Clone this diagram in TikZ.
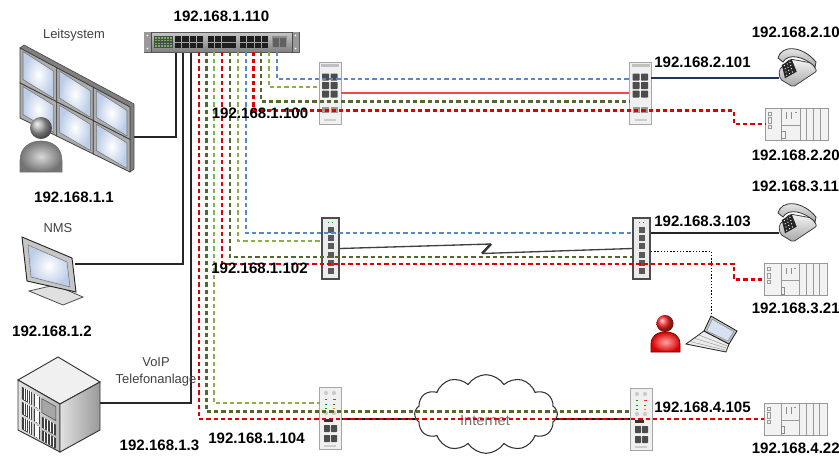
\documentclass[tikz,border=0pt]{standalone}
\usepackage{fontspec}
\setmainfont{Liberation Sans}
\usetikzlibrary{shapes.symbols,calc}

\definecolor{netred}{RGB}{222,0,0}
\definecolor{netlime}{RGB}{140,176,72}
\definecolor{netolive}{RGB}{84,104,44}
\definecolor{netblue}{RGB}{88,136,200}
\definecolor{fibre}{RGB}{242,72,72}
\definecolor{phoneline}{RGB}{30,52,90}
\definecolor{screenblue}{RGB}{188,205,232}
\definecolor{ledgreen}{RGB}{120,175,95}

\newcommand\ipfont{\bfseries\fontsize{11.3}{13}\selectfont}
\newcommand\capfont{\fontsize{9.7}{12.7}\selectfont}
% a slanted vent grille on the PBX cabinet (face coordinates)
\newcommand\ventblock[4]{%
  \fill[black!75] (#1,#3) -- (#2,#3) -- (#2,#4) -- (#1,#4) -- cycle;
  \foreach \q in {1,...,4}{\draw[white,line width=0.4pt] ({#1+(#2-#1)*\q/5},#3) -- ({#1+(#2-#1)*\q/5},#4);}}

\tikzset{
  ip/.style={font=\ipfont, inner sep=0pt},
  devcaption/.style={font=\capfont, text=black!75, inner sep=0pt, align=center},
  link/.style={line width=1.7pt, dash pattern=on 3.2pt off 2.2pt},
  lred/.style={link, draw=netred},
  llime/.style={link, draw=netlime},
  lolive/.style={link, draw=netolive},
  lblue/.style={link, draw=netblue},
  wire/.style={line width=0.9pt, draw=black!85},
  % DIN-rail switch with 3x2 copper ports
  dinA/.pic={
    \node[draw=black!35, fill=black!6, minimum width=16.5pt, minimum height=46.5pt, inner sep=0pt] (-body) at (0,0) {};
    \fill[black!25] (-9,-29) rectangle (9,-26);
    \foreach \r in {0,1,2}{\foreach \c in {0,1}{\fill[black!70, rounded corners=0.4pt] ({-8+\c*8.5},{-19.5+\r*8.5}) rectangle ++(7,7);}}
    \foreach \c in {0,1}{\fill[black!40] ({-8+\c*8.5},14) rectangle ++(7,6);}
    \fill[black!20] (-6,26) rectangle (6,28);
  },
  % slim DIN-rail switch with one column of ports
  dinB/.pic={
    \node[draw=black!70, line width=1.4pt, fill=black!8, minimum width=12.75pt, minimum height=45.75pt, inner sep=0pt] (-body) at (0,0) {};
    \fill[green!60!black] (-3,-27) rectangle ++(1.5,1.5);
    \fill[green!60!black] (1,-27) rectangle ++(1.5,1.5);
    \foreach \k in {0,...,5}{\fill[black!65] (-2.5,{-21.5+\k*8.2}) rectangle ++(6,6);}
  },
  % DIN-rail router with LEDs and 2x2 ports
  dinC/.pic={
    \node[draw=black!35, fill=black!6, minimum width=16.5pt, minimum height=46.5pt, inner sep=0pt] (-body) at (0,0) {};
    \foreach \x in {-4,4}{\fill[black!20] (\x,-25) circle (1.6pt);}
    \foreach \y in {-19,-14.5,-10}{\fill[green!60!black] (-5,\y) rectangle ++(1.6,1.3);}
    \fill[red!85] (3,-19) rectangle ++(2.6,1.3);
    \fill[green!60!black] (3,-14.5) rectangle ++(1.6,1.3);
    \fill[orange] (3,-10) rectangle ++(2.2,1.3);
    \foreach \x in {-4,4}{\fill[black!20] (\x,-5) circle (1.6pt);}
    \fill[black!80] (-6,1) rectangle (3,4);
    \foreach \x in {-6,1}{\foreach \y in {7,17}{\fill[black!70, rounded corners=0.4pt] (\x,\y) rectangle ++(6,7);}}
    \fill[black!20] (-6,27) rectangle (6,29);
  },
  % PLC rack
  plc/.pic={
    \node[draw=black!40, fill=black!5, minimum width=47.25pt, minimum height=24pt, inner sep=0pt] (-body) at (0,0) {};
    \foreach \x in {-14.8,3.5,10.2,16.8,23.5}{\draw[black!40] (\x,-16) -- (\x,16);}
    \draw[black!40] (-14.8,1) -- (3.5,1);
    \draw[black!40] (-28.5,-12) rectangle (-25.5,-9);
    \draw[black!40] (-28.5,-6.5) rectangle (-25.5,-1);
    \draw[black!40] (-28.5,1) rectangle (-25.5,4);
    \fill[black!45] (-10.3,-12) rectangle (-9.3,-5.5);
    \fill[black!45] (-5.3,-12) rectangle (-4.3,-5.5);
    \fill[black!45] (-2,-12) rectangle (0,-11);
    \draw[black!45] (-14.8,7.7) rectangle (-11.5,14.3);
  },
  % desk telephone
  phone/.pic={
    \node[minimum width=28pt, minimum height=28pt, inner sep=0pt] (-body) at (0,0) {};
    \path[draw=black!75, line width=0.6pt, top color=black!4, bottom color=black!35, rounded corners=1.5pt]
      (-17,3) -- (-6,-8) -- (16,-4) -- (21,4) -- (-3,20) -- (-16,12) -- cycle;
    \fill[black!85] (-14.3,-2) -- (-4.3,-7.7) -- (0.7,4.7) -- (-11,11.3) -- cycle;
    \begin{scope}[shift={(-14.3,-2)}, x={(7.5pt,4.3pt)}, y={(2.5pt,-10pt)}]
      \foreach \i in {0,1,2}{\foreach \j in {0,...,3}{\fill[white] ({0.22+\i*0.28},{0.14+\j*0.24}) circle (0.5pt);}}
    \end{scope}
    \path[draw=black!80, line width=0.6pt, top color=black!5, bottom color=black!35]
      (-18,-9) .. controls (-15,-22) and (6,-22) .. (20,-5) -- (19,0)
      .. controls (8,-11) and (-8,-14) .. (-13,-5) -- cycle;
  }
}

\begin{document}
\begin{tikzpicture}[x=0.75pt,y=-0.75pt]
\useasboundingbox (0,0) rectangle (839,465);

% ---------- uplink ports under the core switch ----------
\foreach \n/\x in {k1/176,k2/183,k3/191,r1/199,o1/206.5,g1/214,r2/222,o2/230,g2/238,b2/246,r3/253.5,o3/261,g3/269,b3/277}{\coordinate (up-\n) at (\x,52);}

% ---------- end points of the links ----------
\coordinate (wall-port) at (132,137);
\coordinate (nms-port) at (75,264);
\coordinate (pbx-port) at (100,403);
\coordinate (t-g) at (320,87);
\coordinate (t-b) at (630,79);
\coordinate (t-o) at (630,101.5);
\coordinate (t-bend) at (734,110.5);
\coordinate (m-g) at (322,241);
\coordinate (m-b) at (632,233);
\coordinate (m-o) at (632,257);
\coordinate (m-bend) at (734,264);
\coordinate (b-g) at (320,403);
\coordinate (b-o) at (630,411.5);
\coordinate (sw2-tel) at (651,78);
\coordinate (tel210-in) at (779,78);
\coordinate (sw3-tel) at (651,233);
\coordinate (tel311-in) at (779,233);
\coordinate (sw3-lap) at (651,251);
\coordinate (lap-in) at (711,317);
\coordinate (wl-a) at (491,244);
\coordinate (wl-b) at (482,253.5);

% ---------- local copper cabling ----------
\draw[wire] (up-k1) |- (wall-port);
\draw[wire] (up-k2) |- (nms-port);
\draw[wire] (up-k3) |- (pbx-port);

% ---------- internet uplink behind the cloud ----------
\draw[black!90, line width=0.8pt] (341,419) -- (630,419);
\node[cloud, cloud puffs=12, cloud puff arc=115, aspect=1.8, draw=black!80, fill=white, line width=0.8pt,
      minimum width=107pt, minimum height=59pt, inner sep=0pt] (inet) at (486,414) {};
\node[font=\fontsize{11}{13}\selectfont, text=black!55] (inet-lbl) at (485,421) {Internet};

% ---------- core switch 192.168.1.110 ----------
\node[draw=black!65, minimum width=116.25pt, minimum height=15pt, inner sep=0pt,
      top color=black!22, bottom color=black!50] (sw110) at (221.5,42) {};
\fill[black!40] (144,32) rectangle (151,52);
\fill[black!40] (292,32) rectangle (299,52);
\draw[black!70] (151,32) -- (151,52) (292,32) -- (292,52);
\foreach \x in {147.5,295.5}{\foreach \y in {35.5,48.5}{\fill[white] (\x,\y) circle (0.7pt);}}
\fill[black!70] (154,36) rectangle (173,48);
\foreach \i in {0,...,5}{\foreach \j in {0,...,3}{\fill[ledgreen] ({155+\i*3},{37+\j*2.8}) rectangle ++(2,1.6);}}
\foreach \gx in {175,207.5,240}{\foreach \i in {0,...,3}{\foreach \ry in {36,42.5}{\fill[black!88] ({\gx+\i*7.3},\ry) rectangle ++(6.4,5.5);}}}
\fill[black!45] (272,36) rectangle (287,48);
\fill[black!62] (273,37.5) rectangle (279,46.5);
\fill[black!62] (280,37.5) rectangle (286,46.5);

% ---------- field switches ----------
\pic (sw100) at (330,93) {dinA};
\pic (sw201) at (640.5,93) {dinA};
\pic (sw102) at (330.5,248.5) {dinB};
\pic (sw103) at (641.5,248.5) {dinB};
\pic (sw104) at (330,418) {dinC};
\pic (sw105) at (641,419) {dinC};

% ---------- end devices ----------
\pic (tel210) at (796,67) {phone};
\pic (tel311) at (796,222) {phone};
\pic (plc220) at (796.5,124) {plc};
\pic (plc321) at (796,279.5) {plc};
\pic (plc422) at (796,419) {plc};

% ---------- fibre between 192.168.1.100 and 192.168.2.101 ----------
\draw[fibre, line width=1.2pt] (sw100-body.east) -- (sw201-body.west);

% ---------- radio link between 192.168.1.102 and 192.168.3.103 ----------
\draw[black!75, line width=1pt] (sw102-body.east) -- (wl-a);
\draw[black!80, line width=1.8pt] (wl-a) -- (wl-b);
\draw[black!75, line width=1pt] (wl-b) -- (sw103-body.west);

% ---------- VLAN links ----------
\draw[lblue]  (up-b3) |- (t-b);
\draw[llime]  (up-g3) |- (t-g);
\draw[lolive] (up-o3) |- (t-o);
\draw[lred]   (up-r3) |- (t-bend) |- (plc220-body.west);

\draw[lblue]  (up-b2) |- (m-b);
\draw[llime]  (up-g2) |- (m-g);
\draw[lolive] (up-o2) |- (m-o);
\draw[lred]   (up-r2) |- (m-bend) |- (plc321-body.west);

\draw[llime]  (up-g1) |- (b-g);
\draw[lolive] (up-o1) |- (b-o);
\draw[lred]   (up-r1) |- (plc422-body.west);

% ---------- telephone and service links ----------
\draw[phoneline, line width=0.9pt] (sw2-tel) -- (tel210-in);
\draw[black!85, line width=0.9pt] (sw3-tel) -- (tel311-in);
\draw[black, line width=0.7pt, dash pattern=on 1.1pt off 1.3pt] (sw3-lap) -| (lap-in);

% ---------- control room video wall ----------
\path[fill=black!50, draw=black!70, line width=0.5pt] (20,48) -- (24,45) -- (134,104) -- (134,169) -- (130,172) -- (130,107) -- cycle;
\foreach \xa/\ta/\ba/\xb/\tb/\bb in {20/48/83/56.7/67.7/101.8, 20/83/118/56.7/101.8/136, 56.7/67.7/101.8/93.3/87.3/120.7, 56.7/101.8/136/93.3/120.7/154, 93.3/87.3/120.7/130/107/139.5, 93.3/120.7/154/130/139.5/172}{
  \path[draw=black!75, fill=black!32, line width=0.6pt] (\xa,\ta) -- (\xb,\tb) -- (\xb,\bb) -- (\xa,\ba) -- cycle;
  \path[draw=black!55, inner color=white, outer color=screenblue, line width=0.4pt]
    ({\xa+3},{\ta+3.5}) -- ({\xb-3},{\tb+3.5}) -- ({\xb-3},{\bb-3.5}) -- ({\xa+3},{\ba-3.5}) -- cycle;
}
% operator
\path[draw=black!55, line width=0.5pt, inner color=black!15, outer color=black!55]
  (20,172) -- (20,161) .. controls (20,147) and (30,141) .. (41,141) .. controls (52,141) and (62,147) .. (62,161) -- (62,172) -- cycle;
\shade[ball color=black!35] (41,128) circle (8.25pt);

% ---------- NMS workstation ----------
\path[draw=black!70, fill=black!12, line width=0.6pt] (29,291) -- (55,285) -- (83,297) -- (63,305) -- cycle;
\path[draw=black!85, fill=black!22, line width=0.7pt] (22,237) -- (72,258) -- (76,292) -- (27,281) -- cycle;
\path[draw=black!55, inner color=white, outer color=screenblue, line width=0.4pt] (28,245) -- (67,262) -- (70,287) -- (31,277) -- cycle;

% ---------- VoIP PBX cabinet ----------
\path[draw=black!80, line width=0.7pt, fill=black!6] (58,357) -- (100,382) -- (60,404) -- (18,380) -- cycle;
\path[draw=black!80, line width=0.7pt, left color=black!10, right color=black!28] (18,380) -- (60,404) -- (60,452) -- (18,430) -- cycle;
\path[draw=black!80, line width=0.7pt, left color=black!12, right color=black!40] (60,404) -- (100,382) -- (100,430) -- (60,452) -- cycle;
\begin{scope}[shift={(18,380)}, x={(31.5pt,-18pt)}, y={(0pt,-37.5pt)}]
  \ventblock{0.09}{0.33}{0.09}{0.34}
  \ventblock{0.09}{0.33}{0.39}{0.64}
  \ventblock{0.09}{0.33}{0.69}{0.94}
  \ventblock{0.38}{0.52}{0.09}{0.34}
  \ventblock{0.38}{0.52}{0.39}{0.64}
  \ventblock{0.38}{0.52}{0.69}{0.94}
  \path[draw=black!75, fill=black!35] (0.57,0.1) -- (0.9,0.1) -- (0.9,0.38) -- (0.57,0.38) -- cycle;
  \ventblock{0.57}{0.9}{0.46}{0.68}
  \ventblock{0.57}{0.9}{0.73}{0.94}
\end{scope}

% ---------- service technician with laptop ----------
\path[draw=red!45!black, line width=0.5pt, inner color=red!35, outer color=red!85!black]
  (651,352) -- (651,344) .. controls (651,336) and (657,332) .. (665.5,332) .. controls (674,332) and (680,336) .. (680,344) -- (680,352) -- cycle;
\shade[ball color=red!85] (665,323.5) circle (6.4pt);
\path[draw=black!85, fill=black!8, line width=0.6pt] (704,331) -- (729,344) -- (726,352) -- (686,344) -- cycle;
\foreach \k in {0.3,0.55,0.8}{\draw[black!45, line width=0.3pt] ($(704,331)!\k!(686,344)$) -- ($(729,344)!\k!(726,352)$);}
\path[draw=black!90, fill=black!25, line width=0.6pt] (711,316) -- (737,331) -- (729,344) -- (704,331) -- cycle;
\path[fill=screenblue!60, draw=black!50, line width=0.3pt] (712.2,319.3) -- (733.8,331.6) -- (727.8,341) -- (706.8,330.8) -- cycle;

% ---------- captions ----------
\node[devcaption] (cap-wall) at (74,35) {Leitsystem};
\node[devcaption] (cap-nms) at (58,228) {NMS};
\node[devcaption] (cap-pbx) at (156,371.5) {VoIP\\Telefonanlage};

% ---------- addresses ----------
\node[ip] (ip110) at (221.5,16) {192.168.1.110};
\node[ip] (ip1) at (74,197) {192.168.1.1};
\node[ip] (ip2) at (52,331) {192.168.1.2};
\node[ip] (ip3) at (159.5,445) {192.168.1.3};
\node[ip] (ip100) at (260,113.5) {192.168.1.100};
\node[ip] (ip102) at (259.5,268.5) {192.168.1.102};
\node[ip] (ip104) at (256.5,438) {192.168.1.104};
\node[ip] (ip2101) at (702.5,62) {192.168.2.101};
\node[ip] (ip3103) at (702.5,221.5) {192.168.3.103};
\node[ip] (ip4105) at (702.5,407) {192.168.4.105};
\node[ip, anchor=west] (ip210) at (751.5,32) {192.168.2.10};
\node[ip, anchor=west] (ip220) at (751.5,155) {192.168.2.20};
\node[ip, anchor=west] (ip311) at (751.5,186) {192.168.3.11};
\node[ip, anchor=west] (ip321) at (751.5,308) {192.168.3.21};
\node[ip, anchor=west] (ip422) at (751.5,448) {192.168.4.22};
\end{tikzpicture}
\end{document}
